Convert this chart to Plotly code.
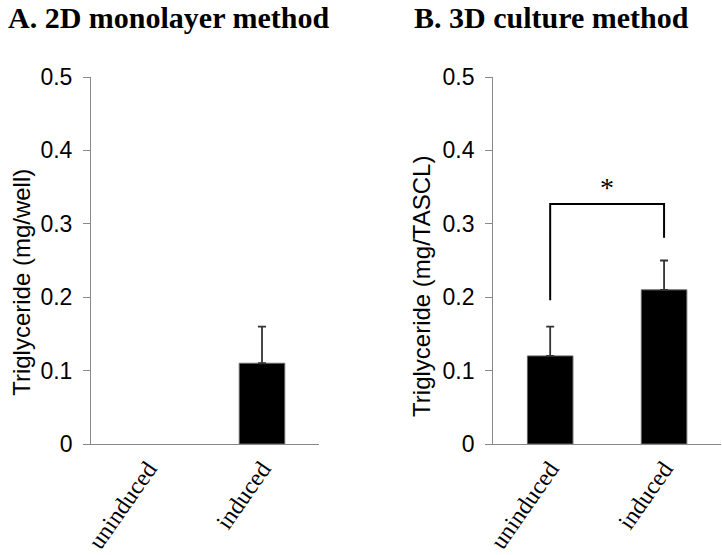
import plotly.graph_objects as go

# ---- data ----
categories = ["uninduced", "induced"]
mono_values = [0.0, 0.11]
mono_errors = [None, 0.05]
culture_values = [0.12, 0.21]
culture_errors = [0.04, 0.04]
y_ticks = [0, 0.1, 0.2, 0.3, 0.4, 0.5]
bracket_top = 0.327
bracket_left_bottom = 0.196
bracket_right_bottom = 0.281
star_y = 0.35

W, H = 722, 555
T, B = 77, 111
PH = H - T - B


def px_x(p):
    return p / W


def px_y(p):
    return 1 - (p - T) / PH


fig = go.Figure()

err_style = dict(type="data", symmetric=False, color="#333", thickness=1.8, width=4)

# bars
fig.add_trace(go.Bar(x=categories, y=mono_values, xaxis="x", yaxis="y",
                     marker=dict(color="black", line=dict(color="#666", width=[0, 1])),
                     width=0.4, showlegend=False))
fig.add_trace(go.Bar(x=categories, y=culture_values, xaxis="x2", yaxis="y2",
                     marker=dict(color="black", line=dict(color="#666", width=1)),
                     width=0.4, showlegend=False))

# error bars (only where an error value exists)
mono_pts = [(c, v, e) for c, v, e in zip(categories, mono_values, mono_errors) if e is not None]
fig.add_trace(go.Scatter(x=[p[0] for p in mono_pts], y=[p[1] for p in mono_pts],
                         mode="markers", marker=dict(size=0.1, color="rgba(0,0,0,0)"),
                         error_y=dict(array=[p[2] for p in mono_pts],
                                      arrayminus=[0] * len(mono_pts), **err_style),
                         xaxis="x", yaxis="y", showlegend=False, hoverinfo="skip"))
fig.add_trace(go.Scatter(x=categories, y=culture_values,
                         mode="markers", marker=dict(size=0.1, color="rgba(0,0,0,0)"),
                         error_y=dict(array=culture_errors, arrayminus=[0] * len(categories),
                                      **err_style),
                         xaxis="x2", yaxis="y2", showlegend=False, hoverinfo="skip"))

# significance bracket
fig.add_trace(go.Scatter(x=[categories[0], categories[0], categories[1], categories[1]],
                         y=[bracket_left_bottom, bracket_top, bracket_top, bracket_right_bottom],
                         mode="lines", line=dict(color="black", width=2),
                         xaxis="x2", yaxis="y2", showlegend=False, hoverinfo="skip"))

tick_font = dict(family="Liberation Sans, Arial, sans-serif", size=23, color="black")
cat_font = dict(family="Liberation Serif, Times New Roman, serif", size=24, color="black")

yax = dict(range=[0, 0.5], tickvals=y_ticks, ticktext=["0", "0.1", "0.2", "0.3", "0.4", "0.5"],
           showgrid=False, zeroline=False, showline=True, linecolor="#888", linewidth=1.3,
           ticks="outside", ticklen=7, tickcolor="#888", tickwidth=1.3, tickfont=tick_font,
           ticklabelstandoff=6, domain=[0, 1])
xax = dict(showgrid=False, zeroline=False, showline=True, linecolor="#888", linewidth=1.3,
           ticks="", tickangle=-55, tickfont=cat_font, range=[-0.5, 1.5])

fig.update_layout(
    width=W, height=H,
    margin=dict(l=0, r=0, t=T, b=B),
    plot_bgcolor="white", paper_bgcolor="white",
    bargap=0.6,
    xaxis=dict(domain=[px_x(85), px_x(315)], anchor="y", **xax),
    yaxis=dict(anchor="x", **yax),
    xaxis2=dict(domain=[px_x(491), px_x(721)], anchor="y2", **xax),
    yaxis2=dict(anchor="x2", **yax),
)

title_font = dict(family="Liberation Serif, Times New Roman, serif", size=30, color="black")
ytitle_font = dict(family="Liberation Sans, Arial, sans-serif", size=24, color="black")

fig.add_annotation(text="<b>A. 2D monolayer method</b>", xref="paper", yref="paper",
                   x=px_x(0), y=px_y(0), xanchor="left", yanchor="top",
                   showarrow=False, font=title_font, borderpad=0)
fig.add_annotation(text="<b>B. 3D culture method</b>", xref="paper", yref="paper",
                   x=px_x(410), y=px_y(0), xanchor="left", yanchor="top",
                   showarrow=False, font=title_font, borderpad=0)
fig.add_annotation(text="Triglyceride (mg/well)", xref="paper", yref="paper",
                   x=px_x(14), y=px_y(282), xanchor="center", yanchor="middle",
                   textangle=-90, showarrow=False, font=ytitle_font)
fig.add_annotation(text="Triglyceride (mg/TASCL)", xref="paper", yref="paper",
                   x=px_x(418), y=px_y(286), xanchor="center", yanchor="middle",
                   textangle=-90, showarrow=False, font=ytitle_font)
fig.add_annotation(text="*", xref="x2", yref="y2", x=0.5, y=star_y,
                   showarrow=False, font=dict(family="Liberation Serif, serif", size=28, color="black"))

fig.write_html("out.html", config={"displayModeBar": False},
               post_script="document.body.style.margin='0';")
